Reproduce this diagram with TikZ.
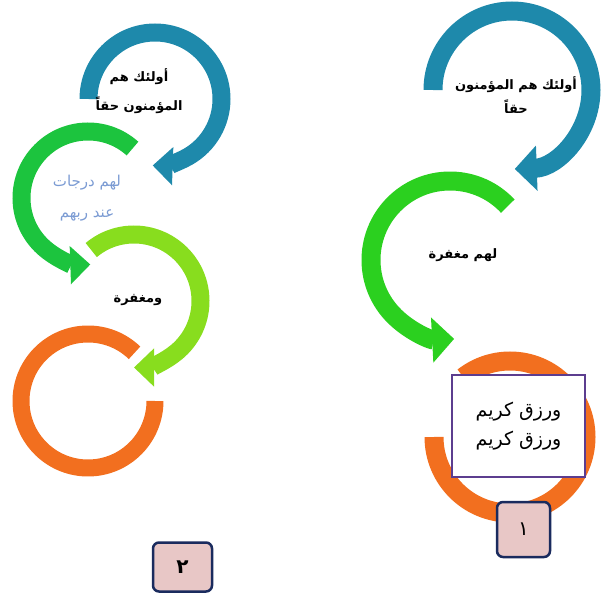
\documentclass[tikz,border=0pt]{standalone}
\usepackage{fontspec}
\usetikzlibrary{%
  arrows.meta
}
\newfontfamily\arabicfont[Script=Arabic]{DejaVu Sans}
\TeXXeTstate=1
\newcommand{\artext}[1]{\beginR #1\endR}
\definecolor{ringblue}{HTML}{1E89AB}
\definecolor{ringgreen}{HTML}{1CC43E}
\definecolor{ringgreenb}{HTML}{2BD01F}
\definecolor{ringlime}{HTML}{88DD1E}
\definecolor{ringorange}{HTML}{F26F1F}
\definecolor{softblue}{HTML}{7B9BD3}
\definecolor{framepurple}{HTML}{5C3D8F}
\definecolor{numfill}{HTML}{E8C7C6}
\definecolor{numdraw}{HTML}{1A2B5E}
\tikzset{
  ring/.style={draw=#1, line width=19pt},
  ring arrow/.style={ring=#1, -{Triangle[length=22pt,width=44pt]}},
  small arrow/.style={ring=#1, line width=18pt, -{Triangle[length=20pt,width=37pt]}},
  ar text/.style={font=\arabicfont\bfseries\fontsize{13}{29}\selectfont, align=center},
  num box/.style={draw=numdraw, fill=numfill, line width=2.5pt, rounded corners=6pt,
    font=\arabicfont\fontsize{20}{20}\selectfont},
}

\begin{document}
\begin{tikzpicture}[x=1pt,y=1pt]
\useasboundingbox (0,0) rectangle (603,-596);
\def\rL{66.5}
\def\rR{79}
%%%centres
\coordinate (blueL) at (155,-99);
\coordinate (greenL) at (88,-198);
\coordinate (limeL) at (134,-301);
\coordinate (orangeL) at (88,-401);
\coordinate (blueR) at (512,-90);
\coordinate (greenR) at (450,-260);
\coordinate (orangeR) at (510,-437);

%%%left column
\draw[small arrow=ringblue] (blueL) ++(180:\rL) arc[start angle=180, end angle=-92, radius=\rL];
\draw[small arrow=ringgreen] (greenL) ++(48:\rL) arc[start angle=48, end angle=272, radius=\rL];
\draw[small arrow=ringlime] (limeL) ++(130:\rL) arc[start angle=130, end angle=-90, radius=\rL];
\draw[ring=ringorange, line width=17pt] (orangeL) ++(46:67) arc[start angle=46, end angle=360, radius=67];

\node[ar text] (textA) at (139,-91) {\artext{أولئك هم}\\\artext{المؤمنون حقاً}};
\node[ar text, font=\arabicfont\fontsize{15}{31}\selectfont, text=softblue] (textB) at (87,-198) {\artext{لهم درجات}\\\artext{عند ربهم}};
\node[ar text] (textC) at (138,-300) {\artext{ومغفرة}};

%%%right column
\draw[ring arrow=ringblue] (blueR) ++(180:\rR) arc[start angle=180, end angle=-88, radius=\rR];
\draw[ring arrow=ringgreenb] (greenR) ++(43:\rR) arc[start angle=43, end angle=273, radius=\rR];
\draw[ring=ringorange] (orangeR) ++(180:76) arc[start angle=180, end angle=488, radius=76];

\node[ar text, font=\arabicfont\bfseries\fontsize{13}{24}\selectfont] (textD) at (516,-95) {\artext{أولئك هم المؤمنون}\\\artext{حقاً}};
\node[ar text] (textE) at (463,-255) {\artext{لهم مغفرة}};
\node[draw=framepurple, fill=white, line width=1.5pt, minimum width=133pt, minimum height=102pt,
  align=center, font=\arabicfont\fontsize{19}{29}\selectfont] (reward) at (518.5,-426)
  {\artext{ورزق كريم}\\\artext{ورزق كريم}};

%%%page numbers
\node[num box, minimum width=53pt, minimum height=55pt] (pageA) at (523.5,-529.5) {\artext{١}};
\node[num box, minimum width=59pt, minimum height=49pt, font=\arabicfont\bfseries\fontsize{20}{20}\selectfont] (pageB) at (182.5,-567) {\artext{٢}};

\end{tikzpicture}
\end{document}
